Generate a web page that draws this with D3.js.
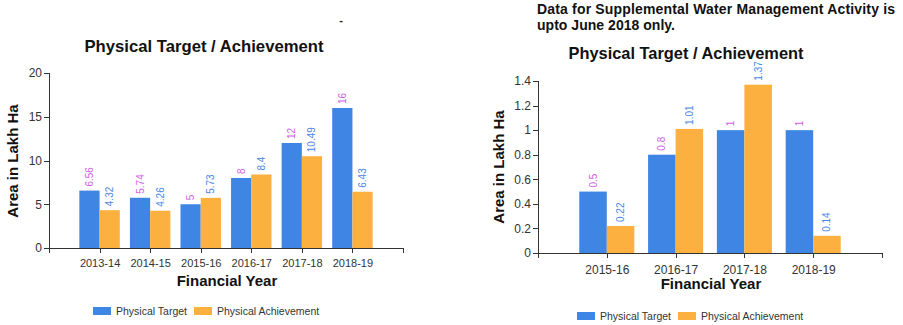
<!DOCTYPE html>
<html>
<head>
<meta charset="utf-8">
<script src="https://cdn.jsdelivr.net/npm/d3@7"></script>
<style>
  html, body { margin: 0; padding: 0; background: #fff; }
  svg { display: block; font-family: Arial, "Liberation Sans", sans-serif; }
  .axis path, .axis line { stroke: #333; shape-rendering: crispEdges; }
  .axis text { fill: #333; }
</style>
</head>
<body>
<svg id="chart" width="903" height="325"></svg>
<script>
// Left panel: main activity, 2013-14 to 2018-19
const yearsMain = ["2013-14", "2014-15", "2015-16", "2016-17", "2017-18", "2018-19"];
const targetMain = [6.56, 5.74, 5, 8, 12, 16];
const achievementMain = [4.32, 4.26, 5.73, 8.4, 10.49, 6.43];
const yTicksMain = [0, 5, 10, 15, 20];

// Right panel: supplemental water management activity
const yearsSupp = ["2015-16", "2016-17", "2017-18", "2018-19"];
const targetSupp = [0.5, 0.8, 1, 1];
const achievementSupp = [0.22, 1.01, 1.37, 0.14];
const yTicksSupp = [0, 0.2, 0.4, 0.6, 0.8, 1, 1.2, 1.4];

const seriesNames = ["Physical Target", "Physical Achievement"];
const barColors = ["#3f86e4", "#fbb03f"];
const labelColors = ["#cf5fe6", "#4a87e6"];

const svg = d3.select("#chart");

function drawPanel(opts) {
  const g = svg.append("g");
  const x = d3.scalePoint().domain(opts.years).range([opts.x0, opts.x1]).padding(1);
  const y = d3.scaleLinear().domain([0, opts.yMax]).range([opts.yBase, opts.yTop]);
  const bw = x.step() * 0.4;

  // axes
  g.append("g").attr("class", "axis")
    .attr("transform", `translate(0,${opts.yBase})`)
    .call(d3.axisBottom(x).tickSize(5).tickPadding(opts.xTickPad))
    .call(a => a.selectAll("text").style("font-size", opts.xTickFont + "px"));
  g.append("g").attr("class", "axis")
    .attr("transform", `translate(${opts.x0},0)`)
    .call(d3.axisLeft(y).tickValues(opts.yTicks).tickSize(5).tickPadding(2)
      .tickFormat(d => String(+d.toFixed(1))))
    .call(a => a.selectAll("text").style("font-size", "12px"));

  const series = [opts.target, opts.achievement];
  series.forEach((vals, si) => {
    const data = opts.years.map((yr, i) => ({ yr, v: vals[i] }));
    g.selectAll(null).data(data).enter().append("rect")
      .attr("x", d => x(d.yr) - bw + si * bw)
      .attr("y", d => y(d.v))
      .attr("width", bw)
      .attr("height", d => opts.yBase - y(d.v))
      .attr("fill", barColors[si]);
    g.selectAll(null).data(data).enter().append("text")
      .attr("transform", d => `translate(${x(d.yr) - bw / 2 + si * bw + 3.5},${y(d.v) - 4}) rotate(-90)`)
      .attr("fill", labelColors[si])
      .style("font-size", "10px")
      .text(d => d.v);
  });

  // titles
  g.append("text")
    .attr("x", opts.titleX).attr("y", opts.titleY)
    .attr("text-anchor", "middle")
    .style("font-size", "17px").style("font-weight", "bold").attr("fill", "#111")
    .attr("textLength", opts.titleW).attr("lengthAdjust", "spacingAndGlyphs")
    .text("Physical Target / Achievement");
  g.append("text")
    .attr("x", opts.xLabelX).attr("y", opts.xLabelY)
    .attr("text-anchor", "middle")
    .style("font-size", "15px").style("font-weight", "bold").attr("fill", "#111")
    .text("Financial Year");
  g.append("text")
    .attr("transform", `translate(${opts.yLabelX},${opts.yLabelY}) rotate(-90)`)
    .attr("text-anchor", "middle")
    .style("font-size", "15px").style("font-weight", "bold").attr("fill", "#111")
    .text("Area in Lakh Ha");

  // legend
  const lg = g.append("g");
  const legendX = [opts.legX, opts.legX + 101];
  seriesNames.forEach((name, i) => {
    lg.append("rect").attr("x", legendX[i]).attr("y", opts.legY - 4)
      .attr("width", 18).attr("height", 8).attr("fill", barColors[i]);
    lg.append("text").attr("x", legendX[i] + 23).attr("y", opts.legY + 4)
      .style("font-size", "10.5px").attr("fill", "#333").text(name);
  });
}

drawPanel({
  years: yearsMain, target: targetMain, achievement: achievementMain,
  yTicks: yTicksMain, yMax: 20,
  x0: 49, x1: 403, yBase: 248, yTop: 73,
  xTickPad: 6, xTickFont: 11,
  titleX: 204, titleY: 52, titleW: 239,
  xLabelX: 227, xLabelY: 286,
  yLabelX: 18, yLabelY: 161,
  legX: 93, legY: 311
});

drawPanel({
  years: yearsSupp, target: targetSupp, achievement: achievementSupp,
  yTicks: yTicksSupp, yMax: 1.4,
  x0: 538, x1: 882, yBase: 253, yTop: 81,
  xTickPad: 7, xTickFont: 12,
  titleX: 686, titleY: 59, titleW: 235,
  xLabelX: 711, xLabelY: 289,
  yLabelX: 504, yLabelY: 167,
  legX: 577, legY: 316
});

// stray mark near the top of the left panel
svg.append("text").attr("x", 341).attr("y", 24).attr("text-anchor", "middle")
  .style("font-size", "11px").style("font-weight", "bold").attr("fill", "#222").text("-");

// note above the right panel, justified on its first line
const note = svg.append("g").style("font-size", "14px").style("font-weight", "bold").attr("fill", "#111");
note.append("text").attr("x", 537).attr("y", 14)
  .attr("textLength", 358).attr("lengthAdjust", "spacing")
  .text("Data for Supplemental Water Management Activity is");
note.append("text").attr("x", 537).attr("y", 30)
  .attr("textLength", 138).attr("lengthAdjust", "spacing")
  .text("upto June 2018 only.");
</script>
</body>
</html>
